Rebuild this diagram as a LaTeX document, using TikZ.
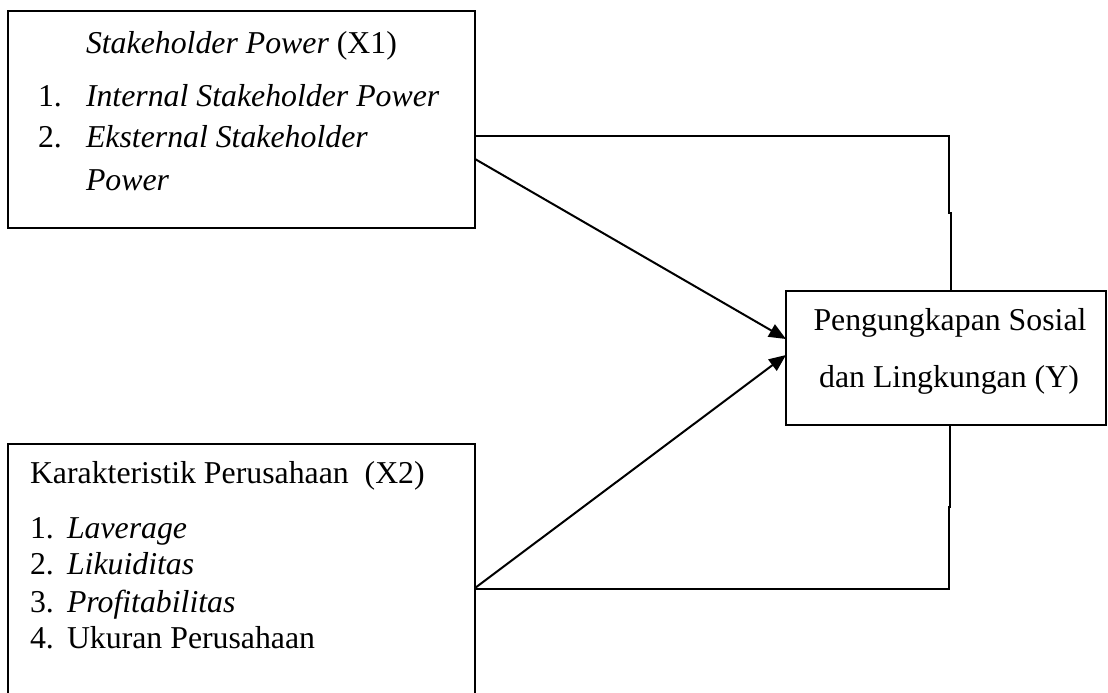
\documentclass[tikz,border=0pt]{standalone}
\usepackage{fontspec}
\setmainfont{Liberation Serif}
\usetikzlibrary{arrows.meta}
\begin{document}
\begin{tikzpicture}[x=1pt,y=-1pt,
  box/.style={draw, line width=2pt, inner sep=0pt, outer sep=0pt, fill=none},
  txt/.style={inner sep=0pt, outer sep=0pt, font=\fontsize{31.8}{38}\selectfont},
  link/.style={line width=2pt},
  arr/.style={line width=2pt, -{Triangle[length=17pt,width=14pt]}}]
\useasboundingbox (0,0) rectangle (1108,693);
% boxes
\node[box, minimum width=467pt, minimum height=217pt] (x1) at (241.5,119.5) {};
\node[box, minimum width=320pt, minimum height=134pt] (y) at (946,358) {};
\node[box, minimum width=467pt, minimum height=251pt] (x2) at (241.5,569.5) {};
% texts X1
\node[txt, anchor=base west] (t1) at (86,53) {\textit{Stakeholder Power} (X1)};
\node[txt, anchor=base west] (n11) at (38,106) {1.};
\node[txt, anchor=base west] (i11) at (86,106) {\textit{Internal Stakeholder Power}};
\node[txt, anchor=base west] (n12) at (38,147) {2.};
\node[txt, anchor=base west] (i12) at (86,147) {\textit{Eksternal Stakeholder}};
\node[txt, anchor=base west] (i12b) at (86,190) {\textit{Power}};
% texts X2
\node[txt, anchor=base west] (t2) at (30,483) {Karakteristik Perusahaan\ \ (X2)};
\node[txt, anchor=base west] (n21) at (30,538) {1.};
\node[txt, anchor=base west] (i21) at (67,538) {\textit{Laverage}};
\node[txt, anchor=base west] (n22) at (30,574) {2.};
\node[txt, anchor=base west] (i22) at (67,574) {\textit{Likuiditas}};
\node[txt, anchor=base west] (n23) at (30,612) {3.};
\node[txt, anchor=base west] (i23) at (67,612) {\textit{Profitabilitas}};
\node[txt, anchor=base west] (n24) at (30,648) {4.};
\node[txt, anchor=base west] (i24) at (67,648) {Ukuran Perusahaan};
% texts Y
\node[txt, anchor=base] (ty1) at (950,330) {Pengungkapan Sosial};
\node[txt, anchor=base] (ty2) at (949,387) {dan Lingkungan (Y)};
% connector coordinates
\coordinate (a1) at (x1.east |- 0,136);
\coordinate (c1) at (949,136);
\coordinate (c2) at (949,213);
\coordinate (c3) at (950.5,213);
\coordinate (c4) at (950.5,291);
\coordinate (b1) at (x2.east |- 0,589);
\coordinate (d1) at (948.5,589);
\coordinate (d2) at (948.5,507);
\coordinate (d3) at (949.5,507);
\coordinate (d4) at (949.5,425);
\draw[link] (a1) -- (c1) -- (c2) -- (c3) -- (c4);
\draw[link] (b1) -- (d1) -- (d2) -- (d3) -- (d4);
% arrows
\coordinate (s1) at (x1.east |- 0,159);
\coordinate (e1) at (y.west |- 0,339);
\coordinate (s2) at (x2.east |- 0,588);
\coordinate (e2) at (y.west |- 0,355);
\draw[arr] (s1) -- (e1);
\draw[arr] (s2) -- (e2);
\end{tikzpicture}
\end{document}
